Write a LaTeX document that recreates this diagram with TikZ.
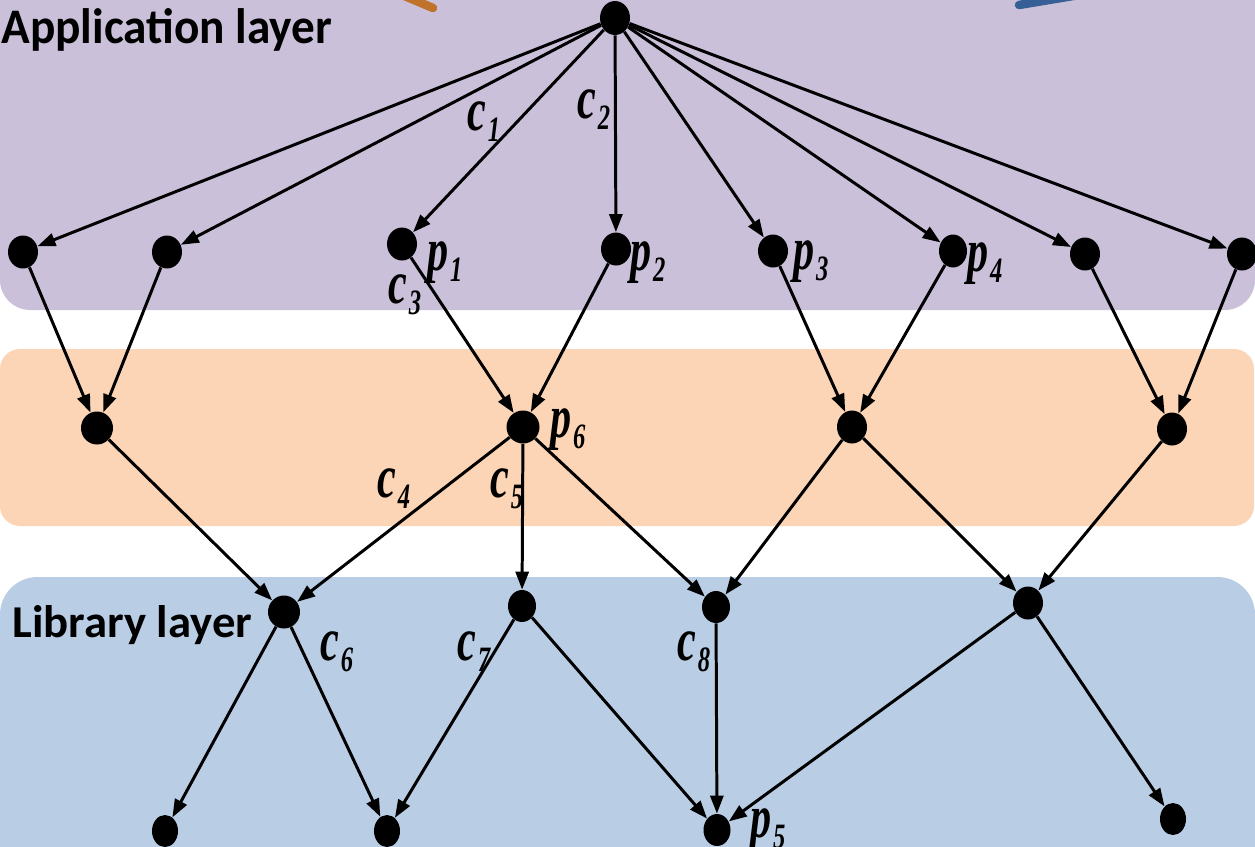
\documentclass[tikz,border=0pt]{standalone}
\usepackage{fontspec}
\setmainfont{Liberation Serif}
\newfontfamily\labfont{Liberation Serif}
\newfontfamily\layerfont{Carlito}
\usetikzlibrary{shapes.geometric,arrows.meta}

\definecolor{appband}{RGB}{203,192,218}
\definecolor{midband}{RGB}{251,213,181}
\definecolor{libband}{RGB}{185,205,229}
\definecolor{strokeorange}{RGB}{192,114,42}
\definecolor{strokeblue}{RGB}{53,95,149}

% bold italic label with a lowered subscript, stretched vertically
\newcommand\lab[2]{\scalebox{1}[1.45]{\labfont\fontsize{24}{24}\selectfont\bfseries\itshape #1\kern1pt\raisebox{-4.5pt}{\fontsize{14}{14}\selectfont #2}}}

\tikzset{
  vtx/.style={ellipse, fill=black, inner sep=0pt, minimum width=0.6cm, minimum height=0.66cm},
  leaf/.style={vtx, minimum width=0.52cm, minimum height=0.64cm},
  edge/.style={-{Triangle[length=0.36cm,width=0.26cm]}, line width=1.7pt},
  lbl/.style={anchor=base west, inner sep=0pt},
  layername/.style={anchor=base west, inner sep=0pt, font=\layerfont\bfseries},
  topstroke/.style={line width=0.17cm, line cap=round}
}

\begin{document}
\begin{tikzpicture}[x=0.02cm, y=-0.02cm]
  \useasboundingbox (0,0) rectangle (1255,846);

  % layer bands
  \fill[appband, rounded corners=0.6cm] (0,-60) rectangle (1255,310);
  \fill[midband, rounded corners=0.4cm] (0,349) rectangle (1254,526);
  \fill[libband, rounded corners=0.75cm] (0,577) rectangle (1255,920);

  % partial strokes at the top edge
  \draw[topstroke, strokeorange] (395,-8) -- (433,8);
  \draw[topstroke, strokeblue] (1085,-6) -- (1019,5);

  % layer names
  \node[layername] (appname) at (1,43) {\resizebox{6.62cm}{0.7cm}{Application layer}};
  \node[layername] (libname) at (12,637) {\resizebox{4.8cm}{0.64cm}{Library layer}};

  % vertices
  \node[vtx, minimum height=0.68cm] (root) at (615,18) {};

  \node[vtx] (n1) at (23,252) {};
  \node[vtx] (n2) at (167,252) {};
  \node[vtx] (p1) at (402,244) {};
  \node[vtx] (p2) at (616,249) {};
  \node[vtx] (p3) at (773,251) {};
  \node[vtx, minimum width=0.56cm] (p4) at (953,251) {};
  \node[vtx] (n7) at (1085,254) {};
  \node[vtx] (n8) at (1242,254) {};

  \node[vtx, minimum width=0.64cm] (m1) at (97,428) {};
  \node[vtx, minimum width=0.66cm] (p6) at (523,427) {};
  \node[vtx] (m3) at (852,427) {};
  \node[vtx] (m4) at (1172,429) {};

  \node[vtx, minimum width=0.64cm] (l1) at (284,612) {};
  \node[leaf, minimum width=0.56cm] (l2) at (522,606) {};
  \node[leaf, minimum width=0.56cm] (l3) at (716,607) {};
  \node[vtx] (l4) at (1028,603) {};

  \node[leaf] (b1) at (165,831) {};
  \node[leaf] (b2) at (387,831) {};
  \node[leaf, minimum width=0.54cm] (p5) at (717,830) {};
  \node[leaf] (b4) at (1173,819) {};

  % application layer edges
  \foreach \t in {n1,n2,p1,p2,p3,p4,n7,n8}
    \draw[edge] (root) -- (\t);

  % into the middle band
  \draw[edge] (n1) -- (m1);
  \draw[edge] (n2) -- (m1);
  \draw[edge] (p1) -- (p6);
  \draw[edge] (p2) -- (p6);
  \draw[edge] (p3) -- (m3);
  \draw[edge] (p4) -- (m3);
  \draw[edge] (n7) -- (m4);
  \draw[edge] (n8) -- (m4);

  % into the library layer
  \draw[edge] (m1) -- (l1);
  \draw[edge] (p6) -- (l1);
  \draw[edge] (p6) -- (l2);
  \draw[edge] (p6) -- (l3);
  \draw[edge] (m3) -- (l3);
  \draw[edge] (m3) -- (l4);
  \draw[edge] (m4) -- (l4);

  % bottom row
  \draw[edge] (l1) -- (b1);
  \draw[edge] (l1) -- (b2);
  \draw[edge] (l2) -- (b2);
  \draw[edge] (l2) -- (p5);
  \draw[edge] (l3) -- (p5);
  \draw[edge] (l4) -- (p5);
  \draw[edge] (l4) -- (b4);

  % edge labels
  \node[lbl] (lc1) at (467,130) {\lab{c}{1}};
  \node[lbl] (lc2) at (577,118) {\lab{c}{2}};
  \node[lbl] (lc3) at (388,303) {\lab{c}{3}};
  \node[lbl] (lc4) at (377,497) {\lab{c}{4}};
  \node[lbl] (lc5) at (490,497) {\lab{c}{5}};
  \node[lbl] (lc6) at (320,660) {\lab{c}{6}};
  \node[lbl] (lc7) at (457,660) {\lab{c}{7}};
  \node[lbl] (lc8) at (677,660) {\lab{c}{8}};

  % vertex labels
  \node[lbl] (lp1) at (427,270) {\lab{p}{1}};
  \node[lbl] (lp2) at (630,270) {\lab{p}{2}};
  \node[lbl] (lp3) at (793,269) {\lab{p}{3}};
  \node[lbl] (lp4) at (967,271) {\lab{p}{4}};
  \node[lbl] (lp6) at (550,437) {\lab{p}{6}};
  \node[lbl] (lp5) at (750,837) {\lab{p}{5}};
\end{tikzpicture}
\end{document}
